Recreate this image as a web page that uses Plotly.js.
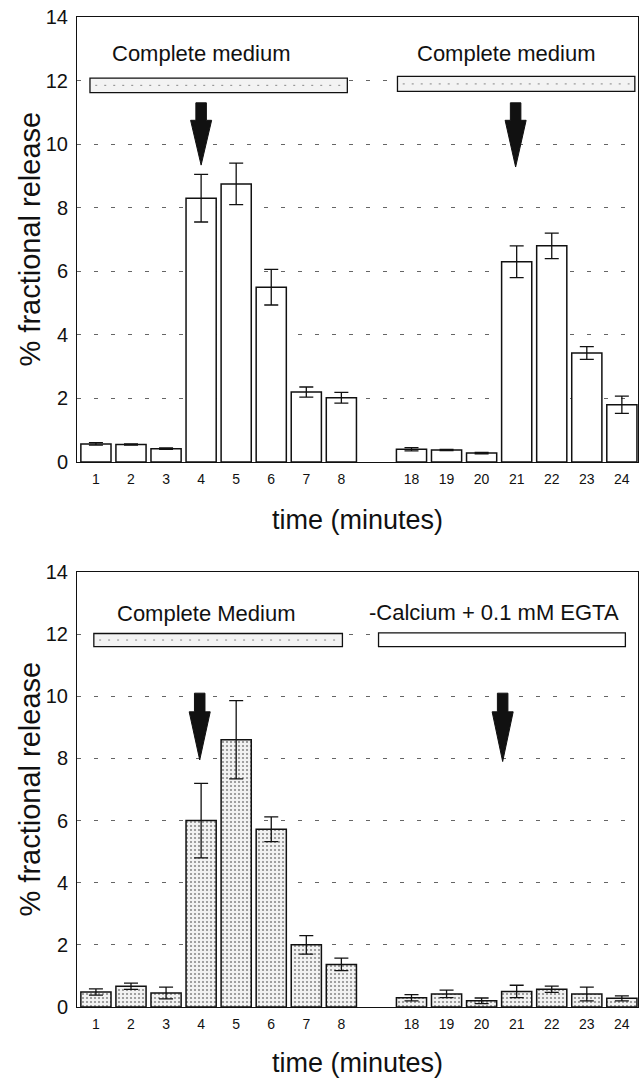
<!DOCTYPE html>
<html>
<head>
<meta charset="utf-8">
<script src="https://cdn.plot.ly/plotly-3.0.1.min.js"></script>
<style>
  html, body { margin: 0; padding: 0; background: #fff; }
  #chart { width: 643px; height: 1079px; }
</style>
</head>
<body>
<div id="chart"></div>
<script>
// ---- data ----
const minutes = ['1','2','3','4','5','6','7','8','18','19','20','21','22','23','24'];
const topRelease    = [0.57, 0.55, 0.42, 8.30, 8.75, 5.50, 2.20, 2.02, 0.40, 0.38, 0.28, 6.30, 6.80, 3.43, 1.80];
const topError      = [0.04, 0.02, 0.02, 0.75, 0.65, 0.56, 0.16, 0.17, 0.05, 0.02, 0.02, 0.50, 0.40, 0.20, 0.27];
const bottomRelease = [0.48, 0.67, 0.45, 6.00, 8.60, 5.72, 2.00, 1.37, 0.30, 0.42, 0.20, 0.50, 0.57, 0.42, 0.28];
const bottomError   = [0.10, 0.10, 0.19, 1.20, 1.26, 0.40, 0.30, 0.20, 0.10, 0.12, 0.09, 0.20, 0.10, 0.22, 0.08];
const topLabels    = ['Complete medium', 'Complete medium'];
const bottomLabels = ['Complete Medium', '-Calcium + 0.1 mM EGTA'];
const yTitle = '% fractional release';
const xTitle = 'time (minutes)';

// slot positions: first block 0..7, one empty slot, second block 9..15
const slots = minutes.map((m, i) => i < 8 ? i : i + 1);

const FONT = 'Liberation Sans, Arial, Helvetica, sans-serif';

function barTrace(vals, errs, xa, ya, patterned) {
  const marker = { color: '#ffffff', line: { color: '#111', width: 1.5 } };
  if (patterned) {
    marker.color = '#ececec';
    marker.pattern = { shape: '.', fgcolor: '#8a8a8a', bgcolor: '#f2f2f2', size: 4, solidity: 0.22 };
  }
  return {
    type: 'bar', x: slots, y: vals, width: 0.86,
    xaxis: xa, yaxis: ya, marker: marker,
    error_y: { type: 'data', array: errs, visible: true, color: '#111', thickness: 1.3, width: 7 },
    hoverinfo: 'skip', showlegend: false
  };
}

const traces = [
  barTrace(topRelease, topError, 'x', 'y', false),
  barTrace(bottomRelease, bottomError, 'x2', 'y2', true)
];

function xAxis(anchor) {
  return {
    anchor: anchor, range: [-0.54, 15.46], tickvals: slots, ticktext: minutes,
    showgrid: false, zeroline: false, showline: true, mirror: true, linecolor: '#111', linewidth: 1,
    ticks: '', ticklabelstandoff: 4, tickfont: { family: FONT, size: 14, color: '#111' },
    fixedrange: true
  };
}
function yAxis(anchor, domain) {
  return {
    anchor: anchor, domain: domain, range: [0, 14], dtick: 2,
    showgrid: true, gridcolor: '#666', gridwidth: 1, griddash: '4px,13px',
    zeroline: false, showline: true, mirror: true, linecolor: '#111', linewidth: 1,
    ticks: '', ticklabelstandoff: 4, tickfont: { family: FONT, size: 20, color: '#111' },
    fixedrange: true
  };
}

// decoration: medium bars and arrows
function mediumBar(xa, ya, x0, x1, y0, y1, dotted) {
  const s = [{
    type: 'rect', xref: xa, yref: ya, x0: x0, x1: x1, y0: y0, y1: y1,
    line: { color: '#111', width: 1.3 }, fillcolor: dotted ? '#f3f3f3' : '#ffffff', layer: 'above'
  }];
  if (dotted) {
    s.push({
      type: 'line', xref: xa, yref: ya, x0: x0 + 0.15, x1: x1 - 0.15, y0: (y0 + y1) / 2, y1: (y0 + y1) / 2,
      line: { color: '#888', width: 1, dash: '2px,7px' }, layer: 'above'
    });
  }
  return s;
}
function arrow(xa, ya, c, top, neck, tip) {
  const sw = 0.15, hw = 0.3;
  const p = `M ${c - sw} ${top} L ${c + sw} ${top} L ${c + sw} ${neck} L ${c + hw} ${neck} ` +
            `L ${c} ${tip} L ${c - hw} ${neck} L ${c - sw} ${neck} Z`;
  return { type: 'path', xref: xa, yref: ya, path: p, fillcolor: '#111', line: { color: '#111', width: 1 }, layer: 'above' };
}

const shapes = [].concat(
  mediumBar('x', 'y', -0.17, 7.17, 11.62, 12.08, true),
  mediumBar('x', 'y', 8.6, 15.37, 11.66, 12.13, true),
  mediumBar('x2', 'y2', -0.06, 7.03, 11.6, 12.02, true),
  mediumBar('x2', 'y2', 8.06, 15.1, 11.6, 12.04, false),
  [arrow('x', 'y', 3.0, 11.3, 10.75, 9.34),
   arrow('x', 'y', 11.97, 11.3, 10.75, 9.28),
   arrow('x2', 'y2', 2.96, 10.1, 9.5, 7.95),
   arrow('x2', 'y2', 11.6, 10.1, 9.5, 7.9)]
);

const annFont = { family: FONT, size: 22, color: '#111' };
const titleFont = { family: FONT, size: 27, color: '#111' };
const yTitleFont = { family: FONT, size: 29, color: '#111' };
const annotations = [
  { xref: 'x', yref: 'y', x: 3.0, y: 12.86, text: topLabels[0], showarrow: false, font: annFont },
  { xref: 'x', yref: 'y', x: 11.71, y: 12.86, text: topLabels[1], showarrow: false, font: annFont },
  { xref: 'x2', yref: 'y2', x: 3.14, y: 12.65, text: bottomLabels[0], showarrow: false, font: annFont },
  { xref: 'x2', yref: 'y2', x: 11.35, y: 12.7, text: bottomLabels[1], showarrow: false, font: annFont },
  // axis titles
  { xref: 'x domain', yref: 'y domain', x: 0.5, y: -58 / 445, yanchor: 'middle', text: xTitle, showarrow: false, font: titleFont },
  { xref: 'x2 domain', yref: 'y2 domain', x: 0.5, y: -56 / 435, yanchor: 'middle', text: xTitle, showarrow: false, font: titleFont },
  { xref: 'paper', yref: 'y domain', x: (30 - 77) / 561, y: 0.5, xanchor: 'center', yanchor: 'middle', textangle: -90, text: yTitle, showarrow: false, font: yTitleFont },
  { xref: 'paper', yref: 'y2 domain', x: (30 - 77) / 561, y: 0.5, xanchor: 'center', yanchor: 'middle', textangle: -90, text: yTitle, showarrow: false, font: yTitleFont }
];

const layout = {
  width: 643, height: 1079,
  margin: { l: 77, r: 5, t: 17, b: 72 },
  paper_bgcolor: '#ffffff', plot_bgcolor: '#ffffff',
  font: { family: FONT, color: '#111' },
  bargap: 0,
  xaxis: xAxis('y'),
  yaxis: yAxis('x', [0.5505, 1]),
  xaxis2: xAxis('y2'),
  yaxis2: yAxis('x2', [0, 0.4394]),
  shapes: shapes,
  annotations: annotations,
  showlegend: false
};

Plotly.newPlot('chart', traces, layout, { staticPlot: true, displayModeBar: false });
</script>
</body>
</html>
